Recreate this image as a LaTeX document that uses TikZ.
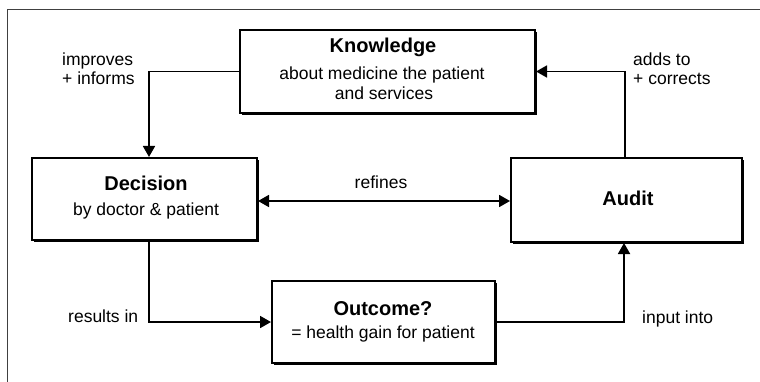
\documentclass[tikz,border=0pt]{standalone}
\usepackage{fontspec}
\setmainfont{Liberation Sans}
\usetikzlibrary{arrows.meta,shadows,calc}
\begin{document}
\begin{tikzpicture}[x=1pt,y=-1pt,
  box/.style={draw, line width=2pt, fill=white, rectangle, inner sep=0pt,
    drop shadow={shadow xshift=1.8pt, shadow yshift=-1.8pt, fill=black, opacity=1}},
  title/.style={font=\fontsize{20}{24}\selectfont\bfseries, anchor=base, inner sep=0pt},
  sub/.style={font=\fontsize{17.5}{20}\selectfont, anchor=base, inner sep=0pt},
  lab/.style={font=\fontsize{17.5}{19}\selectfont, anchor=base west, inner sep=0pt, align=left},
  conn/.style={line width=1.8pt, -{Triangle[length=11pt,width=12pt]}},
  frame/.style={line width=0.8pt, black!75}]
\useasboundingbox (0,0) rectangle (760,382);
\draw[frame] (7,382) -- (7,9) -- (760,9);

% boxes
\node[box, minimum width=295pt, minimum height=83pt] (know) at (387.5,71.5) {};
\node[box, minimum width=225pt, minimum height=82pt] (dec) at (144.5,199) {};
\node[box, minimum width=231pt, minimum height=84pt] (aud) at (626.5,200) {};
\node[box, minimum width=223pt, minimum height=82pt] (out) at (383.5,322) {};

% box texts
\node[title] (knowT) at (383,53) {Knowledge};
\node[sub] (knowA) at (382,80) {about medicine the patient};
\node[sub] (knowB) at (384,100) {and services};
\node[title] (decT) at (146,191) {Decision};
\node[sub] (decA) at (146,215) {by doctor \& patient};
\node[title] (audT) at (628,205) {Audit};
\node[title] (outT) at (383,315) {Outcome?};
\node[sub] (outA) at (383,338) {= health gain for patient};

% connectors
\draw[conn] (know.west) -| ([xshift=4.5pt]dec.north);
\draw[conn] ([xshift=-1.5pt]aud.north) |- (know.east);
\draw[conn, {Triangle[length=11pt,width=12pt]}-{Triangle[length=11pt,width=12pt]}] ([yshift=-2pt]dec.east) -- ([yshift=-2pt]dec.east -| aud.west);
\draw[conn] ([xshift=4.5pt]dec.south) |- (out.west);
\draw[conn] (out.east) -| ([xshift=-2.5pt]aud.south);

% labels
\node[lab] (l1) at (62,85) {improves\\+ informs};
\node[lab] (l2) at (633,85) {adds to\\+ corrects};
\node[sub] (l3) at (381,189) {refines};
\node[lab] (l4) at (68,322) {results in};
\node[lab] (l5) at (642,323) {input into};
\end{tikzpicture}
\end{document}
